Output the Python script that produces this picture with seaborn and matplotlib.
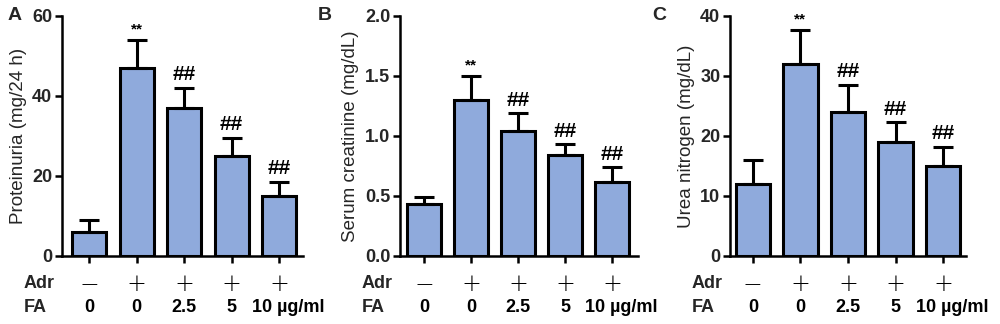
import matplotlib
matplotlib.use("Agg")
import matplotlib.pyplot as plt
import matplotlib.transforms as mtransforms
import seaborn as sns
import pandas as pd
import numpy as np

groups = ["G1", "G2", "G3", "G4", "G5"]
adr_labels = ["\u2212", "+", "+", "+", "+"]
fa_labels = ["0", "0", "2.5", "5", "10 \u00b5g/ml"]

prot_mean = [6, 47, 37, 25, 15]
prot_upper = [9, 54, 42, 29.5, 18.5]
prot_sig = ["", "**", "##", "##", "##"]

creat_mean = [0.43, 1.30, 1.04, 0.84, 0.62]
creat_upper = [0.49, 1.50, 1.19, 0.93, 0.74]
creat_sig = ["", "**", "##", "##", "##"]

urea_mean = [12, 32, 24, 19, 15]
urea_upper = [16, 37.7, 28.5, 22.3, 18.2]
urea_sig = ["", "**", "##", "##", "##"]

sns.set_theme(style="ticks")
plt.rcParams["font.family"] = ["Liberation Sans", "DejaVu Sans"]

fig = plt.figure(figsize=(10, 3.24), dpi=100)

panels = [
    dict(mean=prot_mean, upper=prot_upper, sig=prot_sig, ylabel="Proteinuria (mg/24 h)",
         ylim=(0, 60), yticks=[0, 20, 40, 60], ytl=["0", "20", "40", "60"],
         rect=[0.062, 0.210, 0.241, 0.741], xlim=(-0.57, 4.5), letter="A", lx=0.008),
    dict(mean=creat_mean, upper=creat_upper, sig=creat_sig, ylabel="Serum creatinine (mg/dL)",
         ylim=(0, 2.0), yticks=[0, 0.5, 1.0, 1.5, 2.0], ytl=["0.0", "0.5", "1.0", "1.5", "2.0"],
         rect=[0.400, 0.210, 0.238, 0.741], xlim=(-0.51, 4.55), letter="B", lx=0.318),
    dict(mean=urea_mean, upper=urea_upper, sig=urea_sig, ylabel="Urea nitrogen (mg/dL)",
         ylim=(0, 40), yticks=[0, 10, 20, 30, 40], ytl=["0", "10", "20", "30", "40"],
         rect=[0.730, 0.210, 0.236, 0.741], xlim=(-0.48, 4.48), letter="C", lx=0.652),
]

bar_color = "#8FAADC"

for p in panels:
    ax = fig.add_axes(p["rect"])
    df = pd.DataFrame({"group": groups, "value": p["mean"]})
    sns.barplot(data=df, x="group", y="value", color=bar_color, edgecolor="black",
                linewidth=2.2, width=0.72, errorbar=None, ax=ax, saturation=1)
    mean = np.array(p["mean"], dtype=float)
    err = np.array(p["upper"], dtype=float) - mean
    xs = np.arange(len(groups))
    ax.errorbar(xs, mean, yerr=[np.zeros_like(err), err], fmt="none", ecolor="black",
                elinewidth=2.2, capsize=7, capthick=2.2, zorder=1)
    span = p["ylim"][1] - p["ylim"][0]
    for x, u, s in zip(xs, p["upper"], p["sig"]):
        if s:
            fs = 11 if s == "**" else 15
            ax.text(x, u + span * 0.015, s, ha="center", va="bottom", fontsize=fs,
                    fontweight="bold", color="black")
    ax.set_ylim(*p["ylim"])
    ax.set_xlim(*p["xlim"])
    ax.set_yticks(p["yticks"])
    ax.set_yticklabels(p["ytl"], fontsize=13, fontweight="bold")
    ax.set_xticks(xs)
    ax.set_xticklabels([""] * len(xs))
    ax.set_xlabel("")
    ax.set_ylabel(p["ylabel"], fontsize=13.5, labelpad=4)
    for sp in ["top", "right"]:
        ax.spines[sp].set_visible(False)
    for sp in ["left", "bottom"]:
        ax.spines[sp].set_linewidth(1.8)
        ax.spines[sp].set_color("black")
    ax.tick_params(axis="both", direction="out", length=5, width=1.8, color="black",
                   pad=2)
    trans = mtransforms.blended_transform_factory(ax.transData, ax.transAxes)
    for x, a, f in zip(xs, adr_labels, fa_labels):
        ax.text(x, -0.115, a, transform=trans, ha="center", va="center",
                fontsize=17, color="black", family=["DejaVu Sans"], fontweight="light")
        fx_off = 0.2 if len(f) > 3 else 0.0
        ax.text(x + fx_off, -0.215, f, transform=trans, ha="center", va="center",
                fontsize=13, fontweight="bold", color="black")
    fx = p["rect"][0] - 0.038
    fig.text(fx, 1 - 283 / 324, "Adr", ha="left", va="center", fontsize=13, fontweight="bold")
    fig.text(fx, 1 - 307 / 324, "FA", ha="left", va="center", fontsize=13, fontweight="bold")
    fig.text(p["lx"], 1 - 16 / 324, p["letter"], ha="left", va="center", fontsize=14,
             fontweight="bold")

fig.savefig("out.png", dpi=100, facecolor="white")
